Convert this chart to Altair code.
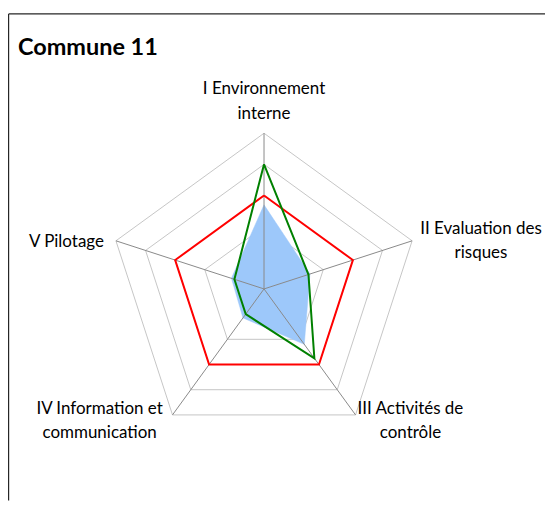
import math
import altair as alt
import pandas as pd

# ---- data ----
categories = ["I", "II", "III", "IV", "V"]
category_labels = [
    "I Environnement\ninterne",
    "II Evaluation des\nrisques",
    "III Activités de\ncontrôle",
    "IV Information et\ncommunication",
    "V Pilotage",
]
commune_values = [4.0, 1.5, 2.75, 1.0, 1.0]      # green line
target_values = [3.0, 3.0, 3.0, 3.0, 3.0]        # red line
average_values = [2.7, 1.55, 2.2, 1.15, 1.1]     # blue filled area
grid_levels = [1, 2, 3, 4, 5]
max_value = 5

# ---- layout ----
W, H = 538, 493
CX, CY = 256.5, 281.0          # centre of the radar inside the plot area (px)
PX = 156.0 / max_value          # px per unit
xdom = [-CX / PX, (W - CX) / PX]
ydom = [-(H - CY) / PX, CY / PX]

n = len(categories)


def closed(series, values):
    rows = []
    for i in range(n + 1):
        rows.append({"series": series, "idx": i, "value": values[i % n]})
    return rows


poly = pd.DataFrame(
    closed("commune", commune_values)
    + closed("target", target_values)
    + closed("average", average_values)
)
grid = pd.DataFrame(
    [{"level": lv, "idx": i, "value": lv} for lv in grid_levels for i in range(n + 1)]
)
spokes = pd.DataFrame({"cat": categories, "idx": list(range(n)), "value": [max_value] * n})
labels = pd.DataFrame(
    {"cat": categories, "label": category_labels, "idx": list(range(n)), "value": [max_value] * n}
)

xs = alt.Scale(domain=xdom, nice=False, zero=False)
ys = alt.Scale(domain=ydom, nice=False, zero=False)


def polar(ch):
    return ch.transform_calculate(
        px=f"datum.value * sin(datum.idx * 2 * PI / {n})",
        py=f"datum.value * cos(datum.idx * 2 * PI / {n})",
    )


X = alt.X("px:Q", scale=xs, axis=None)
Y = alt.Y("py:Q", scale=ys, axis=None)

grid_layer = polar(
    alt.Chart(grid).mark_line(color="#c6c6c6", strokeWidth=1)
).encode(x=X, y=Y, detail="level:N", order="idx:Q")

spoke_layer = polar(
    alt.Chart(spokes).mark_rule(color="#8a8a8a", strokeWidth=1)
).transform_calculate(zero="0").encode(
    x=X, y=Y, x2=alt.X2("zero:Q"), y2=alt.Y2("zero:Q")
)

area_layer = polar(
    alt.Chart(poly).transform_filter("datum.series == 'average'")
    .mark_line(color="#9dc8fa", fill="#9dc8fa", strokeWidth=0.5)
).encode(x=X, y=Y, order="idx:Q")

target_layer = polar(
    alt.Chart(poly).transform_filter("datum.series == 'target'")
    .mark_line(color="#ff0000", strokeWidth=2)
).encode(x=X, y=Y, order="idx:Q")

commune_layer = polar(
    alt.Chart(poly).transform_filter("datum.series == 'commune'")
    .mark_line(color="#008000", strokeWidth=2)
).encode(x=X, y=Y, order="idx:Q")

label_style = dict(font="Lato", fontSize=17, color="#000000", lineBreak="\n", lineHeight=24.5)
label_specs = {
    "I": dict(align="center", baseline="middle", dx=0, dy=-44),
    "II": dict(align="center", baseline="middle", dx=69, dy=-12),
    "III": dict(align="center", baseline="middle", dx=55, dy=-6),
    "IV": dict(align="center", baseline="middle", dx=-73, dy=-6),
    "V": dict(align="right", baseline="middle", dx=-12, dy=1),
}
label_layers = []
for cat in categories:
    label_layers.append(
        polar(
            alt.Chart(labels).transform_filter(f"datum.cat == '{cat}'")
            .mark_text(**label_style, **label_specs[cat])
        ).encode(x=X, y=Y, text="label:N")
    )

title_layer = alt.Chart(pd.DataFrame({"t": ["Commune 11"]})).mark_text(
    font="Lato", fontSize=23.5, fontWeight="bold", align="left", baseline="middle", color="#000000"
).encode(x=alt.value(10), y=alt.value(40), text="t:N")

border_top = alt.Chart(pd.DataFrame({"a": [0]})).mark_rule(color="#262626", strokeWidth=1.2).encode(
    x=alt.value(0.6), x2=alt.value(W), y=alt.value(5.5)
)
border_left = alt.Chart(pd.DataFrame({"a": [0]})).mark_rule(color="#262626", strokeWidth=1.2).encode(
    x=alt.value(0.6), y=alt.value(5.5), y2=alt.value(H)
)

chart = alt.layer(
    grid_layer, area_layer, spoke_layer, target_layer, commune_layer,
    *label_layers, title_layer, border_top, border_left,
).properties(width=W, height=H, padding=0, background="white").configure_view(stroke=None)

chart.save("out.html", embed_options={"renderer": "svg", "actions": False})
